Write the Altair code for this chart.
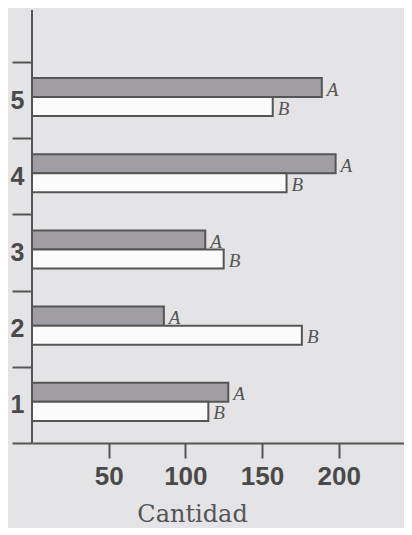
import altair as alt
import pandas as pd

categories = ["5", "4", "3", "2", "1"]
series = ["A", "B"]
values_a = [189, 198, 113, 86, 128]
values_b = [157, 166, 125, 176, 115]
x_ticks = [50, 100, 150, 200]
x_max = 242.6

rows = []
for c, a, b in zip(categories, values_a, values_b):
    rows.append({"cat": c, "serie": "A", "valor": a})
    rows.append({"cat": c, "serie": "B", "valor": b})
df = pd.DataFrame(rows)

W = 372
H = 433
TOP_EMPTY = 52

x_enc = alt.X("valor:Q",
              scale=alt.Scale(domain=[0, x_max], nice=False),
              axis=alt.Axis(values=x_ticks, title="Cantidad", grid=False,
                            domainColor="#555555", domainWidth=2,
                            tickColor="#555555", tickWidth=2, tickSize=15,
                            labelFont="Liberation Sans", labelFontWeight="bold",
                            labelFontSize=26, labelColor="#4a4a4a", labelPadding=5,
                            titleFont="DejaVu Serif", titleFontSize=24,
                            titleFontWeight="normal", titleColor="#555555",
                            titleX=160, titleY=78, titleBaseline="alphabetic"))
y_enc = alt.Y("cat:N",
              sort=categories,
              scale=alt.Scale(domain=categories, range=[TOP_EMPTY, H],
                              paddingInner=0, paddingOuter=0),
              axis=alt.Axis(title=None, domain=False, tickBand="extent",
                            tickColor="#555555", tickWidth=2, tickSize=20,
                            labelFont="Liberation Sans", labelFontWeight="bold",
                            labelFontSize=25, labelColor="#4a4a4a",
                            labelPadding=-12, labelAlign="right",
                            labelBaseline="middle", labelOffset=0))
yoff = alt.YOffset("serie:N",
                   scale=alt.Scale(domain=series, paddingInner=0,
                                   paddingOuter=1, align=0.42))

base = alt.Chart(df)

bars = base.mark_bar(stroke="#555555", strokeWidth=2).encode(
    x=x_enc,
    y=y_enc,
    yOffset=yoff,
    color=alt.Color("serie:N",
                    scale=alt.Scale(domain=series, range=["#a09ea2", "#fbfbfb"]),
                    legend=None),
)

labels = base.mark_text(align="left", baseline="middle", dx=5, dy=2,
                        font="Liberation Serif", fontStyle="italic",
                        fontSize=19, color="#555555").encode(
    x="valor:Q",
    y=alt.Y("cat:N", sort=categories),
    yOffset=alt.YOffset("serie:N"),
    text="serie:N",
)

yline = alt.Chart(pd.DataFrame({"v": [0]})).mark_rule(
    color="#555555", strokeWidth=2).encode(
    x=alt.X("v:Q"),
    y=alt.value(0),
    y2=alt.value(H),
)

chart = alt.layer(bars, labels, yline).properties(
    width=W, height=H,
    autosize=alt.AutoSizeParams(type="none"),
    padding={"left": 24, "top": 2, "right": 0, "bottom": 85},
    background="#e4e4e6",
).configure_view(stroke=None)

chart.save("out.html", embed_options={"renderer": "svg", "actions": False})
